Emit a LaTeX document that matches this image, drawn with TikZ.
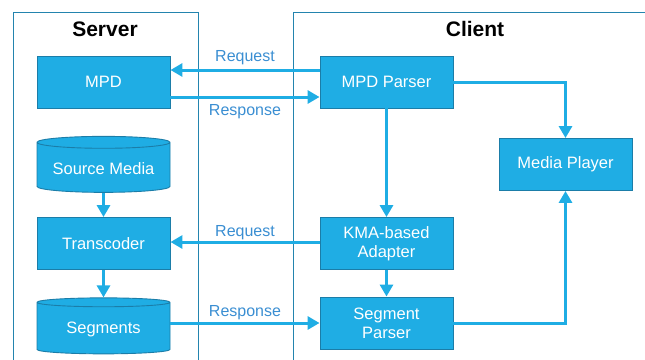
\documentclass[tikz,border=0pt]{standalone}
\usepackage{fontspec}
\setmainfont{Liberation Sans}
\usetikzlibrary{shapes.geometric, arrows.meta, positioning, calc}
\definecolor{dashblue}{HTML}{1FADE4}
\definecolor{dashedge}{HTML}{1B7DA8}
\definecolor{dashframe}{HTML}{2384AE}
\definecolor{dashlabel}{HTML}{3A8ED2}

\tikzset{
  procbox/.style={draw=dashedge, fill=dashblue, text=white, line width=0.9pt,
    minimum width=133pt, minimum height=52pt, align=center, font=\fontsize{16.5}{19}\selectfont},
  storebox/.style={cylinder, shape border rotate=90, aspect=0.11, draw=dashedge, fill=dashblue,
    text=white, line width=0.9pt, minimum width=133pt, minimum height=56pt,
    font=\fontsize{16.5}{19}\selectfont},
  flow/.style={dashblue, line width=3pt, -{Triangle[length=12pt,width=13pt]}},
  msg/.style={text=dashlabel, font=\fontsize{16}{18}\selectfont},
  frame/.style={draw=dashframe, line width=0.8pt}
}

\begin{document}
\begin{tikzpicture}[x=1pt, y=-1pt]
\clip (0,0) rectangle (645,359);
\useasboundingbox (0,0) rectangle (645,359);

% Frames
\draw[frame] (13,380) -- (13,12) -- (198,12) -- (198,380);
\draw[frame] (293,380) -- (293,12) -- (660,12);
\node[font=\bfseries\fontsize{21}{23}\selectfont] (servertitle) at (105,29) {Server};
\node[font=\bfseries\fontsize{21}{23}\selectfont] (clienttitle) at (475,29) {Client};

% Server side
\node[procbox] (mpd) at (103.5,82) {MPD};
\node[storebox] (source) at (103.5,168.5) {Source Media};
\node[procbox] (transcoder) at (103.5,243.5) {Transcoder};
\node[storebox] (segments) at (103.5,329) {Segments};

% Client side
\node[procbox] (mpdparser) at (386.5,82) {MPD Parser};
\node[procbox] (adapter) at (386.5,243.5) {KMA-based\\Adapter};
\node[procbox] (segparser) at (386.5,323) {Segment\\Parser};
\node[procbox] (player) at (565.5,164.5) {Media Player};

% Server flow
\draw[flow] (source) -- (transcoder);
\draw[flow] (transcoder) -- (segments);

% Requests and responses
\draw[flow] ([yshift=12pt]mpdparser.west) -- node[msg, above=0pt] {Request} ([yshift=12pt]mpd.east);
\draw[flow] ([yshift=-15pt]mpd.east) -- node[msg, below=3pt] {Response} ([yshift=-15pt]mpdparser.west);
\draw[flow] ([yshift=1.5pt]adapter.west) -- node[msg, above=-3pt] {Request} ([yshift=1.5pt]transcoder.east);
\draw[flow] (segments.east |- segparser.west) -- node[msg, above=-2pt] {Response} (segparser.west);

% Client flow
\draw[flow] (mpdparser) -- (adapter);
\draw[flow] (adapter) -- (segparser);
\draw[flow] (mpdparser.east) -| (player.north);
\draw[flow] (segparser.east) -| (player.south);
\end{tikzpicture}
\end{document}
